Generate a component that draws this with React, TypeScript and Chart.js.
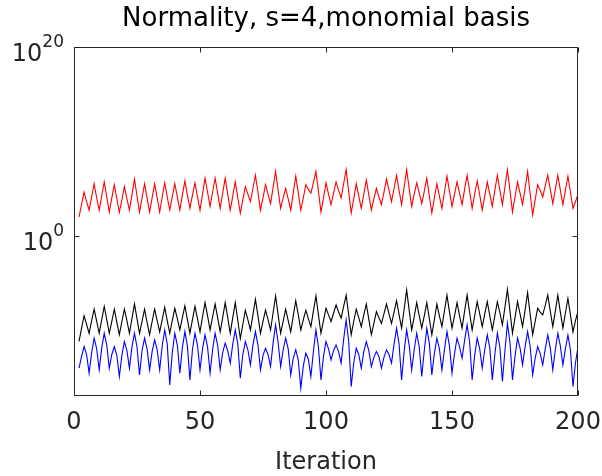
import React, { useEffect, useRef } from 'react';
import { Chart, registerables } from 'chart.js';

Chart.register(...registerables);

const TITLE = 'Normality, s=4,monomial basis';
const X_LABEL = 'Iteration';
const FIRST_ITERATION = 2;
const X_MIN = 0;
const X_MAX = 200;
const xTickValues = [0, 50, 100, 150, 200];
const yTickExponents = [0, 20];
const Y_MIN_EXP = -17;
const Y_MAX_EXP = 20;

// log10 of the plotted quantities, iterations 2..200
const redExp = [
  2.0, 3.3,
  4.6, 3.6, 2.7, 4.1,
  5.5, 4.0, 2.7, 4.2,
  5.7, 4.1, 2.5, 4.0,
  5.4, 3.9, 2.5, 3.8,
  5.2, 3.9, 2.7, 4.3,
  6.0, 4.2, 2.5, 4.0,
  5.5, 4.0, 2.5, 4.0,
  5.5, 4.0, 2.5, 4.1,
  5.6, 4.1, 2.7, 4.1,
  5.5, 4.1, 2.7, 4.3,
  5.8, 4.3, 2.9, 4.3,
  5.6, 4.1, 2.7, 4.4,
  6.1, 4.6, 3.1, 4.6,
  6.1, 4.5, 2.9, 4.5,
  6.1, 4.4, 2.7, 4.2,
  5.7, 4.0, 2.4, 3.8,
  5.2, 4.4, 3.6, 5.0,
  6.4, 4.6, 2.7, 4.0,
  5.4, 4.4, 3.4, 5.1,
  6.8, 4.8, 2.9, 4.0,
  5.0, 3.9, 2.7, 4.5,
  6.3, 4.5, 2.7, 4.0,
  5.4, 4.9, 4.5, 5.6,
  6.8, 4.7, 2.5, 4.0,
  5.6, 4.4, 3.3, 4.5,
  5.7, 4.8, 4.0, 5.5,
  7.0, 4.7, 2.4, 3.9,
  5.5, 4.2, 2.9, 4.4,
  5.9, 4.3, 2.7, 3.9,
  5.0, 4.1, 3.3, 4.6,
  6.0, 4.8, 3.6, 5.0,
  6.4, 4.8, 3.3, 5.1,
  7.0, 5.0, 3.1, 4.4,
  5.6, 4.5, 3.4, 4.7,
  6.1, 4.2, 2.4, 4.0,
  5.5, 4.2, 2.9, 4.6,
  6.3, 4.7, 3.1, 4.4,
  5.7, 4.5, 3.3, 4.9,
  6.4, 4.7, 2.9, 4.4,
  5.8, 4.3, 2.7, 4.2,
  5.7, 4.4, 3.1, 4.8,
  6.4, 4.8, 3.3, 5.1,
  7.0, 4.8, 2.5, 4.1,
  5.7, 4.5, 3.3, 5.0,
  6.8, 4.5, 2.2, 3.8,
  5.4, 4.8, 4.1, 5.3,
  6.4, 4.9, 3.4, 4.9,
  6.4, 4.8, 3.3, 4.8,
  6.3, 4.6, 2.9, 3.6,
  4.4,
];

const blackExp = [
  -11.2, -9.8,
  -8.5, -9.4, -10.35, -9.0,
  -7.8, -9.1, -10.35, -8.9,
  -7.5, -8.9, -10.35, -9.1,
  -7.8, -9.2, -10.5, -9.1,
  -7.8, -9.0, -10.35, -8.8,
  -7.25, -8.8, -10.35, -9.1,
  -7.8, -9.2, -10.5, -9.1,
  -7.8, -9.0, -10.2, -8.9,
  -7.6, -9.0, -10.35, -9.0,
  -7.7, -8.8, -10.0, -8.7,
  -7.45, -8.9, -10.35, -8.9,
  -7.5, -8.8, -10.2, -8.6,
  -7.1, -8.5, -10.0, -8.6,
  -7.25, -8.7, -10.2, -8.7,
  -7.1, -8.7, -10.35, -8.7,
  -7.1, -9.0, -10.9, -9.4,
  -7.9, -8.9, -10.0, -8.4,
  -6.75, -8.5, -10.35, -9.1,
  -7.9, -8.9, -10.0, -8.2,
  -6.4, -8.4, -10.35, -9.1,
  -7.8, -9.0, -10.2, -8.5,
  -6.9, -8.4, -10.0, -8.9,
  -7.9, -8.8, -9.65, -8.0,
  -6.4, -8.4, -10.35, -9.0,
  -7.7, -8.4, -9.1, -8.2,
  -7.35, -8.1, -8.75, -7.5,
  -6.3, -8.4, -10.5, -9.1,
  -7.8, -8.7, -9.65, -8.4,
  -7.25, -8.9, -10.5, -9.3,
  -8.05, -8.7, -9.3, -8.3,
  -7.25, -8.3, -9.3, -8.1,
  -6.9, -8.4, -9.8, -7.8,
  -5.75, -7.9, -10.0, -8.6,
  -7.1, -8.5, -9.8, -8.5,
  -7.1, -8.8, -10.5, -8.9,
  -7.25, -8.5, -9.65, -8.0,
  -6.3, -8.1, -9.8, -8.5,
  -7.1, -8.5, -9.8, -8.0,
  -6.3, -8.2, -10.0, -8.5,
  -7.0, -8.3, -9.65, -8.3,
  -7.0, -8.5, -10.0, -8.5,
  -7.0, -8.2, -9.45, -7.6,
  -5.7, -8.0, -10.35, -8.7,
  -7.0, -8.3, -9.65, -7.9,
  -6.05, -8.3, -10.5, -9.1,
  -7.7, -8.1, -8.4, -7.4,
  -6.3, -8.0, -9.65, -8.0,
  -6.3, -8.1, -9.8, -8.2,
  -6.65, -8.4, -10.2, -9.0,
  -8.0,
];

const blueExp = [
  -14.05, -12.8,
  -11.76, -12.6, -14.58, -12.4,
  -10.87, -12.0, -14.23, -11.9,
  -10.35, -11.6, -14.05, -12.6,
  -11.76, -12.7, -14.94, -12.7,
  -11.23, -12.2, -14.05, -11.8,
  -10.35, -11.8, -14.76, -12.2,
  -10.87, -12.0, -14.23, -12.3,
  -11.05, -12.1, -14.23, -11.7,
  -10.0, -11.5, -15.82, -12.4,
  -10.35, -11.6, -14.58, -11.9,
  -10.17, -11.7, -15.29, -12.1,
  -10.35, -11.6, -14.23, -12.0,
  -10.52, -11.8, -14.58, -12.1,
  -10.35, -11.6, -14.23, -12.4,
  -11.4, -12.2, -13.52, -11.5,
  -10.0, -11.5, -15.11, -12.6,
  -11.23, -12.1, -13.7, -11.6,
  -10.17, -11.6, -14.23, -12.7,
  -11.94, -12.6, -13.88, -11.4,
  -9.46, -11.3, -13.88, -12.1,
  -10.87, -12.0, -14.76, -13.0,
  -12.11, -13.2, -16.17, -13.8,
  -12.46, -13.1, -14.94, -12.3,
  -10.0, -11.8, -15.29, -12.8,
  -11.23, -12.0, -13.17, -12.2,
  -11.58, -12.3, -13.52, -11.0,
  -8.93, -11.2, -16.0, -13.5,
  -11.94, -12.6, -14.05, -12.3,
  -11.23, -12.2, -13.88, -12.9,
  -12.29, -12.8, -14.05, -12.9,
  -12.1, -12.6, -13.52, -11.5,
  -9.81, -11.5, -15.29, -12.3,
  -10.0, -11.6, -14.23, -12.1,
  -10.35, -11.8, -14.94, -12.2,
  -9.81, -11.4, -14.76, -12.5,
  -10.87, -12.0, -14.23, -12.1,
  -10.17, -11.7, -14.58, -12.5,
  -10.87, -11.8, -13.0, -11.1,
  -9.46, -11.3, -15.29, -12.7,
  -10.87, -12.0, -14.05, -12.1,
  -10.52, -11.9, -15.29, -12.6,
  -10.35, -11.8, -15.47, -12.2,
  -9.28, -11.3, -15.29, -12.8,
  -10.87, -11.9, -13.7, -11.8,
  -10.17, -11.7, -14.76, -13.0,
  -11.76, -12.5, -13.7, -12.0,
  -10.52, -11.9, -14.23, -12.1,
  -10.35, -11.7, -13.7, -12.0,
  -10.52, -12.1, -16.0, -13.5,
  -11.76,
];

function toPoints(exps: number[]) {
  return exps.map((e, i) => ({ x: FIRST_ITERATION + i, y: Math.pow(10, e) }));
}

const AXIS_COLOR = '#262626';
const FONT_FAMILY = '"DejaVu Sans", Verdana, sans-serif';
const TICK_SIZE = 24;
const EXP_SIZE = 17;

const framePlugin = {
  id: 'matlabFrame',
  afterDatasetsDraw(chart: any) {
    const { ctx, chartArea, scales } = chart;
    const L = Math.round(chartArea.left) + 0.5;
    const R = Math.round(chartArea.right) - 0.5;
    const T = Math.round(chartArea.top) + 0.5;
    const B = Math.round(chartArea.bottom) - 0.5;
    const len = 5;
    ctx.save();
    ctx.strokeStyle = AXIS_COLOR;
    ctx.lineWidth = 1;
    ctx.strokeRect(L, T, R - L, B - T);
    ctx.beginPath();
    xTickValues.forEach((v) => {
      const px = Math.round(scales.x.getPixelForValue(v)) + 0.5;
      ctx.moveTo(px, B);
      ctx.lineTo(px, B - len);
      ctx.moveTo(px, T);
      ctx.lineTo(px, T + len);
    });
    yTickExponents.forEach((e) => {
      const py = Math.round(scales.y.getPixelForValue(Math.pow(10, e))) + 0.5;
      ctx.moveTo(L, py);
      ctx.lineTo(L + len, py);
      ctx.moveTo(R, py);
      ctx.lineTo(R - len, py);
    });
    ctx.stroke();

    // y tick labels "10" with a raised exponent, placed at the scale's tick pixels
    ctx.fillStyle = AXIS_COLOR;
    ctx.textAlign = 'left';
    ctx.textBaseline = 'alphabetic';
    const rightEdge = chartArea.left - 10;
    yTickExponents.forEach((e) => {
      const py = scales.y.getPixelForValue(Math.pow(10, e));
      const base = '10';
      const exp = String(e);
      ctx.font = `${TICK_SIZE}px ${FONT_FAMILY}`;
      const bw = ctx.measureText(base).width;
      ctx.font = `${EXP_SIZE}px ${FONT_FAMILY}`;
      const ew = ctx.measureText(exp).width;
      const x0 = rightEdge - bw - ew;
      ctx.font = `${TICK_SIZE}px ${FONT_FAMILY}`;
      ctx.fillText(base, x0, py + 14);
      ctx.font = `${EXP_SIZE}px ${FONT_FAMILY}`;
      ctx.fillText(exp, x0 + bw, py);
    });
    ctx.restore();
  },
};

export default function App() {
  const canvasRef = useRef<HTMLCanvasElement | null>(null);

  useEffect(() => {
    document.body.style.margin = '0';
    const canvas = canvasRef.current;
    if (!canvas) return;
    const chart = new Chart(canvas, {
      type: 'line',
      data: {
        datasets: [
          { data: toPoints(redExp), borderColor: '#ff0000', borderWidth: 1.1, pointRadius: 0, tension: 0, fill: false },
          { data: toPoints(blackExp), borderColor: '#000000', borderWidth: 1.1, pointRadius: 0, tension: 0, fill: false },
          { data: toPoints(blueExp), borderColor: '#0000ff', borderWidth: 1.1, pointRadius: 0, tension: 0, fill: false },
        ],
      },
      options: {
        responsive: false,
        animation: false,
        devicePixelRatio: 1,
        layout: { padding: { left: 74, right: 24, top: 0, bottom: 0 } },
        plugins: {
          legend: { display: false },
          tooltip: { enabled: false },
          title: {
            display: true,
            text: TITLE,
            color: '#000000',
            font: { family: FONT_FAMILY, size: 26, weight: 'normal', lineHeight: 1.2 },
            padding: { top: 4, bottom: 11.8 },
          },
        },
        scales: {
          x: {
            type: 'linear',
            min: X_MIN,
            max: X_MAX,
            grid: { display: false, drawTicks: false },
            border: { display: false },
            ticks: {
              stepSize: 50,
              autoSkip: false,
              maxRotation: 0,
              padding: 12,
              color: AXIS_COLOR,
              font: { family: FONT_FAMILY, size: TICK_SIZE },
            },
            afterBuildTicks: (scale: any) => {
              scale.ticks = xTickValues.map((v) => ({ value: v }));
            },
            title: {
              display: true,
              text: X_LABEL,
              color: AXIS_COLOR,
              font: { family: FONT_FAMILY, size: 24, lineHeight: 1.2 },
              padding: { top: 0, bottom: -1 },
            },
            afterFit: (scale: any) => {
              scale.height = 80;
              scale.paddingLeft = 0;
              scale.paddingRight = 0;
            },
          },
          y: {
            type: 'logarithmic',
            min: Math.pow(10, Y_MIN_EXP),
            max: Math.pow(10, Y_MAX_EXP),
            grid: { display: false, drawTicks: false },
            border: { display: false },
            afterBuildTicks: (scale: any) => {
              scale.ticks = yTickExponents.map((e) => ({ value: Math.pow(10, e) }));
            },
            ticks: { display: false },
            afterFit: (scale: any) => {
              scale.width = 0;
              scale.paddingTop = 0;
              scale.paddingBottom = 0;
            },
          },
        },
      },
      plugins: [framePlugin],
    });
    return () => chart.destroy();
  }, []);

  return (
    <div style={{ width: 602, height: 476, background: '#ffffff' }}>
      <canvas ref={canvasRef} width={602} height={476} style={{ display: 'block' }} />
    </div>
  );
}
